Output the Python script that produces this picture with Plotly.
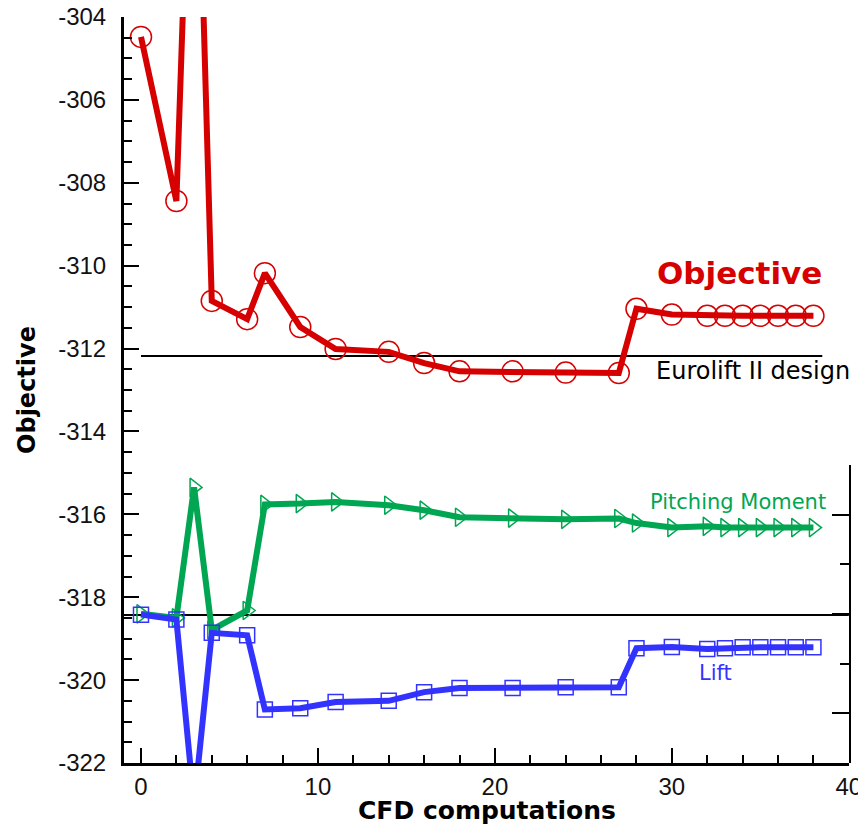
import plotly.graph_objects as go

# Optimisation history: objective and its lift / pitching-moment parts
obj_x = [0, 2, 3, 4, 6, 7, 9, 11, 14, 16, 18, 21, 24, 27, 28, 30, 32, 33, 34, 35, 36, 37, 38]
obj_y = [-304.48, -308.44, -296.0, -310.85, -311.29, -310.18, -311.48, -312.01, -312.08,
         -312.35, -312.55, -312.55, -312.58, -312.59, -311.04, -311.18, -311.21, -311.21,
         -311.21, -311.21, -311.21, -311.21, -311.21]

pm_x = [0, 2, 3, 4, 6, 7, 9, 11, 14, 16, 18, 21, 24, 27, 28, 30, 32, 33, 34, 35, 36, 37, 38]
pm_y = [-318.40, -318.50, -315.35, -318.79, -318.32, -315.76, -315.74, -315.70, -315.78,
        -315.90, -316.07, -316.09, -316.12, -316.10, -316.21, -316.32, -316.29, -316.32,
        -316.32, -316.32, -316.32, -316.32, -316.32]

lift_x = [0, 2, 3, 4, 6, 7, 9, 11, 14, 16, 18, 21, 24, 27, 28, 30, 32, 33, 34, 35, 36, 37, 38]
lift_y = [-318.42, -318.54, -323.0, -318.86, -318.92, -320.71, -320.68, -320.53, -320.50,
          -320.29, -320.19, -320.19, -320.17, -320.17, -319.23, -319.20, -319.25, -319.23,
          -319.21, -319.21, -319.21, -319.21, -319.21]

# Reference levels
design_x = [0, 38.5]
design_y = [-312.18, -312.18]
base_x = [-0.96, 40]
base_y = [-318.43, -318.43]

x_range = [-0.96, 40.01]
y_range = [-322, -304]
x_ticks = [0, 10, 20, 30, 40]
y_ticks = [-322, -320, -318, -316, -314, -312, -310, -308, -306, -304]

RED = "#d60000"
GREEN = "#00a651"
BLUE = "#3333ff"

fig = go.Figure()

fig.add_trace(go.Scatter(x=design_x, y=design_y, mode="lines",
                         line=dict(color="black", width=2), hoverinfo="skip"))
fig.add_trace(go.Scatter(x=base_x, y=base_y, mode="lines",
                         line=dict(color="black", width=2), hoverinfo="skip"))

fig.add_trace(go.Scatter(x=pm_x, y=pm_y, mode="lines+markers", name="Pitching Moment",
                         line=dict(color=GREEN, width=6),
                         marker=dict(symbol="triangle-right-open", size=16,
                                     color=GREEN, line=dict(width=1.5, color=GREEN))))
fig.add_trace(go.Scatter(x=lift_x, y=lift_y, mode="lines+markers", name="Lift",
                         line=dict(color=BLUE, width=6),
                         marker=dict(symbol="square-open", size=15,
                                     color=BLUE, line=dict(width=1.5, color=BLUE))))
fig.add_trace(go.Scatter(x=obj_x, y=obj_y, mode="lines+markers", name="Objective",
                         line=dict(color=RED, width=6),
                         marker=dict(symbol="circle-open", size=21,
                                     color=RED, line=dict(width=1.5, color=RED))))

# secondary axis on the lower right (no data of its own)
fig.add_trace(go.Scatter(x=[], y=[], yaxis="y2", showlegend=False, hoverinfo="skip"))

tick_font = dict(family="Liberation Sans, Arial, sans-serif", size=24, color="#111")

fig.update_layout(
    width=858, height=827,
    margin=dict(l=124, r=9, t=17, b=64),
    paper_bgcolor="white", plot_bgcolor="rgba(0,0,0,0)",
    showlegend=False,
    xaxis=dict(
        range=x_range, tickvals=x_ticks, ticktext=[str(v) for v in x_ticks],
        showline=True, linecolor="black", linewidth=3, automargin=False,
        ticks="inside", ticklen=15, tickwidth=2, tickcolor="black",
        minor=dict(ticks="inside", ticklen=8, tickwidth=1.5, tickcolor="black", dtick=2, tick0=0),
        showgrid=False, zeroline=False, tickfont=tick_font, ticklabelstandoff=0,
        ticklabeloverflow="allow",
    ),
    yaxis=dict(
        range=y_range, tickvals=y_ticks, ticktext=[str(v) for v in y_ticks],
        showline=True, linecolor="black", linewidth=3, automargin=False,
        ticks="inside", ticklen=15, tickwidth=2, tickcolor="black",
        minor=dict(ticks="inside", ticklen=8, tickwidth=1.5, tickcolor="black", dtick=0.5, tick0=0),
        showgrid=False, zeroline=False, tickfont=tick_font, ticklabelstandoff=10,
        title=dict(text="<b>Objective</b>",
                   font=dict(family="DejaVu Sans, sans-serif", size=24, color="black"), standoff=16),
    ),
    yaxis2=dict(
        domain=[0, 0.3995], anchor="x", side="right", range=[-0.5, 2.5], automargin=False,
        showline=True, linecolor="black", linewidth=2,
        ticks="inside", ticklen=17, tickwidth=2, tickcolor="black", dtick=1, tick0=0,
        minor=dict(ticks="inside", ticklen=9, tickwidth=1.5, tickcolor="black", dtick=0.5, tick0=0),
        showticklabels=False, showgrid=False, zeroline=False,
    ),
)

# x-axis title
fig.add_annotation(x=0.5, y=-0.0635, xref="paper", yref="paper", yanchor="middle",
                   text="<b>CFD computations</b>", showarrow=False,
                   font=dict(family="DejaVu Sans, sans-serif", size=25, color="black"))

fig.add_annotation(x=33.8, y=-310.18, xref="x", yref="y", text="<b>Objective</b>", showarrow=False,
                   font=dict(family="DejaVu Sans, sans-serif", size=31, color=RED))
fig.add_annotation(x=34.6, y=-312.54, xref="x", yref="y", text="Eurolift II design", showarrow=False,
                   font=dict(family="DejaVu Sans, sans-serif", size=24, color="black"))
fig.add_annotation(x=33.75, y=-315.7, xref="x", yref="y", text="Pitching Moment", showarrow=False,
                   font=dict(family="DejaVu Sans, sans-serif", size=21, color=GREEN))
fig.add_annotation(x=32.45, y=-319.83, xref="x", yref="y", text="Lift", showarrow=False,
                   font=dict(family="DejaVu Sans, sans-serif", size=21, color=BLUE))

fig.write_html("out.html")
